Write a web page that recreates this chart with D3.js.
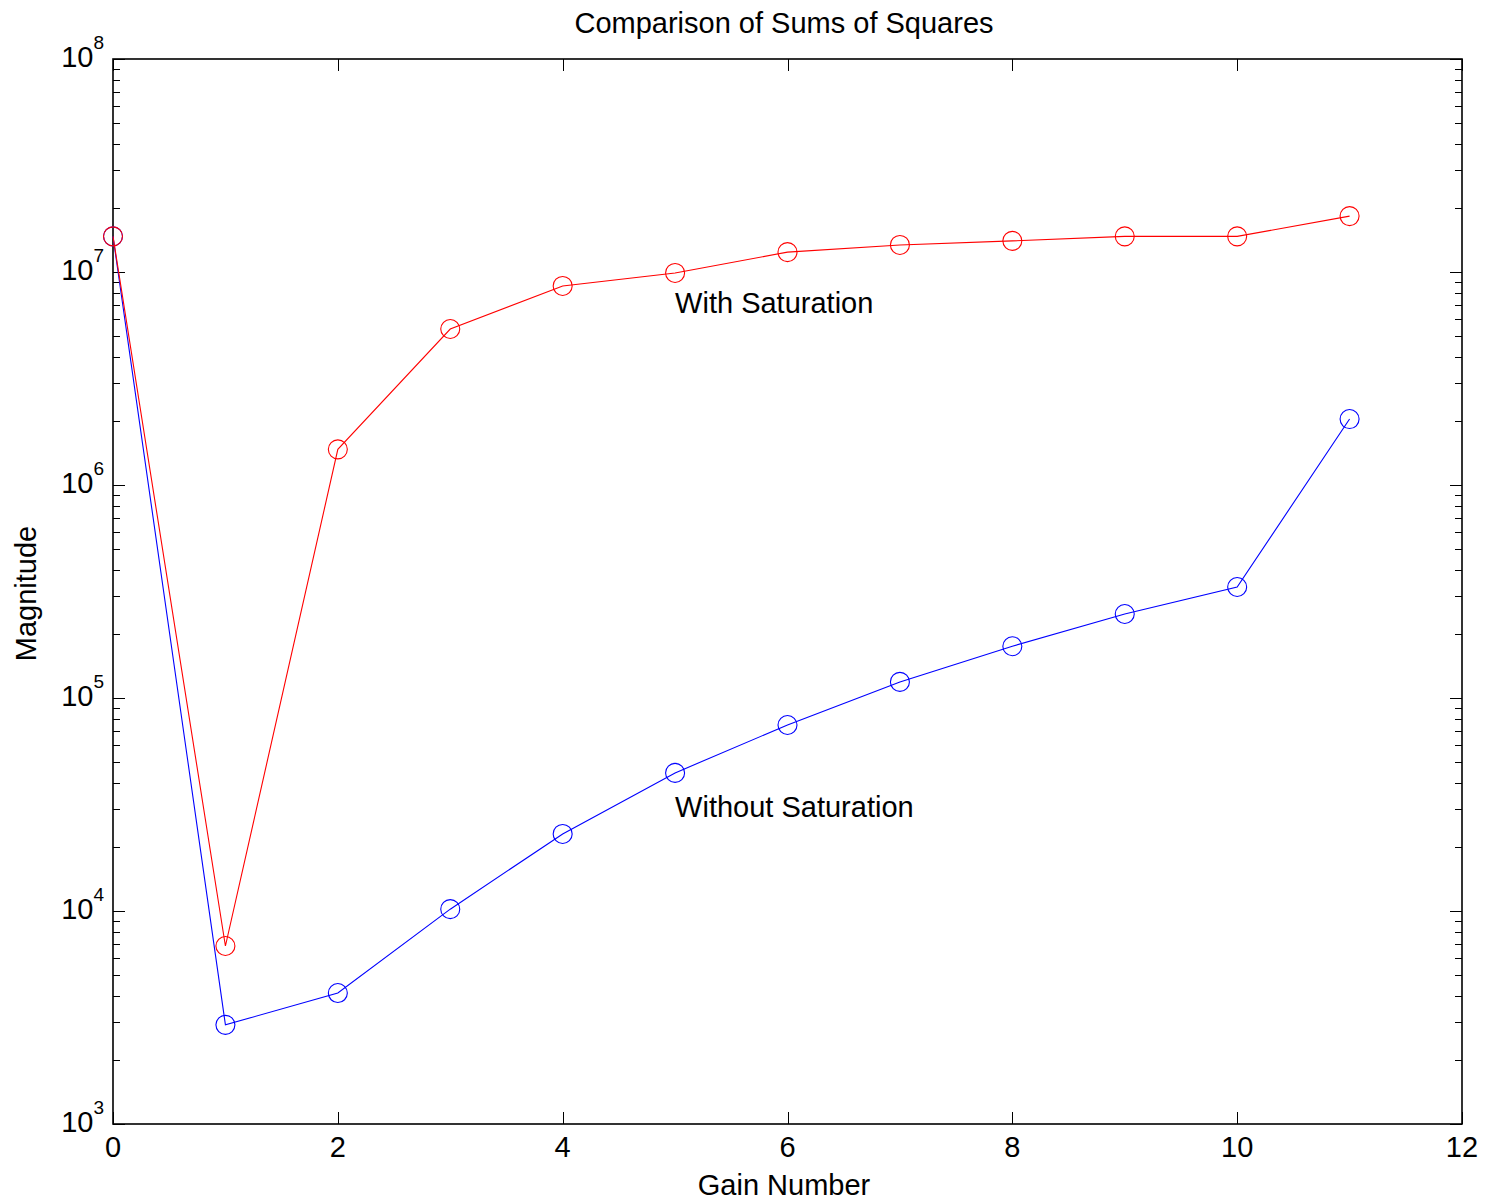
<!DOCTYPE html>
<html>
<head>
<meta charset="utf-8">
<script src="https://cdn.jsdelivr.net/npm/d3@7"></script>
<style>
  html, body { margin: 0; padding: 0; background: #fff; }
  svg { display: block; }
  text { font-family: "Liberation Sans", Arial, Helvetica, sans-serif; fill: #000; }
</style>
</head>
<body>
<script>
// Gain index for each run
const gains = [0, 1, 2, 3, 4, 5, 6, 7, 8, 9, 10, 11];
// Sum of squares with actuator saturation
const withSaturation = [1.47e7, 6.85e3, 1.47e6, 5.4e6, 8.6e6, 9.9e6, 1.24e7, 1.34e7, 1.40e7, 1.47e7, 1.47e7, 1.83e7];
// Sum of squares without saturation
const withoutSaturation = [1.47e7, 2.92e3, 4.12e3, 1.02e4, 2.30e4, 4.45e4, 7.47e4, 1.19e5, 1.75e5, 2.48e5, 3.32e5, 2.04e6];
// Axis ticks
const xTicks = [0, 2, 4, 6, 8, 10, 12];
const yExponents = [3, 4, 5, 6, 7, 8];
// In-plot annotations: [x, y, text]
const annotations = [
  [5, 7e6, "With Saturation"],
  [5, 3e4, "Without Saturation"]
];

const W = 1486, H = 1204;
const plotLeft = 113, plotRight = 1462, plotTop = 59, plotBottom = 1124;
const fontSize = 29, supSize = 19;
const labelCenterX = 784;

const svg = d3.select("body").append("svg").attr("width", W).attr("height", H);

const x = d3.scaleLinear().domain([0, 12]).range([plotLeft, plotRight]);
const y = d3.scaleLog().domain([1e3, 1e8]).range([plotBottom, plotTop]);

// Minor log ticks 2..9 per decade
const minor = [];
for (let e = 3; e < 8; e++) for (let m = 2; m <= 9; m++) minor.push(m * Math.pow(10, e));
const major = yExponents.map(e => Math.pow(10, e));

const tickG = svg.append("g").attr("stroke", "#000").attr("stroke-width", 1);
// y ticks on both sides, pointing inward
[[plotLeft, 1], [plotRight, -1]].forEach(([x0, dir]) => {
  tickG.selectAll(null).data(minor).enter().append("line")
    .attr("x1", x0).attr("x2", x0 + dir * 7)
    .attr("y1", d => Math.round(y(d)) + 0.5).attr("y2", d => Math.round(y(d)) + 0.5);
  tickG.selectAll(null).data(major).enter().append("line")
    .attr("x1", x0).attr("x2", x0 + dir * 12)
    .attr("y1", d => Math.round(y(d)) + 0.5).attr("y2", d => Math.round(y(d)) + 0.5);
});
// x ticks on bottom and top, pointing inward
[[plotBottom, -1], [plotTop, 1]].forEach(([y0, dir]) => {
  tickG.selectAll(null).data(xTicks).enter().append("line")
    .attr("x1", d => Math.round(x(d)) + 0.5).attr("x2", d => Math.round(x(d)) + 0.5)
    .attr("y1", y0).attr("y2", y0 + dir * 12);
});

// Axes box
svg.append("rect")
  .attr("x", plotLeft).attr("y", plotTop)
  .attr("width", plotRight - plotLeft).attr("height", plotBottom - plotTop)
  .attr("fill", "none").attr("stroke", "#000").attr("stroke-width", 1.6);

// x tick labels
svg.append("g").selectAll("text").data(xTicks).enter().append("text")
  .attr("x", d => x(d)).attr("y", plotBottom + 33)
  .attr("text-anchor", "middle").attr("font-size", fontSize)
  .text(d => d);

// y tick labels as powers of ten
const yl = svg.append("g").selectAll("text").data(yExponents).enter().append("text")
  .attr("x", plotLeft - 9).attr("y", d => y(Math.pow(10, d)) + 7.5)
  .attr("text-anchor", "end").attr("font-size", fontSize);
yl.append("tspan").text("10");
yl.append("tspan").attr("font-size", supSize).attr("dy", -17.5).text(d => d);

// Series
const line = d3.line().x((d, i) => x(gains[i])).y(d => y(d));
function drawSeries(values, color) {
  const g = svg.append("g");
  g.append("path").datum(values).attr("d", line)
    .attr("fill", "none").attr("stroke", color).attr("stroke-width", 1.1);
  g.selectAll("circle").data(values).enter().append("circle")
    .attr("cx", (d, i) => x(gains[i])).attr("cy", d => y(d)).attr("r", 9.5)
    .attr("fill", "none").attr("stroke", color).attr("stroke-width", 1.1);
}
drawSeries(withoutSaturation, "#0000ff");
drawSeries(withSaturation, "#ff0000");

// Annotations
svg.append("g").selectAll("text").data(annotations).enter().append("text")
  .attr("x", d => x(d[0])).attr("y", d => y(d[1]))
  .attr("dominant-baseline", "middle").attr("font-size", fontSize)
  .text(d => d[2]);

// Title and axis labels
svg.append("text").attr("x", labelCenterX).attr("y", 33)
  .attr("text-anchor", "middle").attr("font-size", fontSize)
  .text("Comparison of Sums of Squares");
svg.append("text").attr("x", labelCenterX).attr("y", 1195)
  .attr("text-anchor", "middle").attr("font-size", fontSize)
  .text("Gain Number");
svg.append("text")
  .attr("transform", `translate(36,${(plotTop + plotBottom) / 2 + 2}) rotate(-90)`)
  .attr("text-anchor", "middle").attr("font-size", fontSize)
  .text("Magnitude");
</script>
</body>
</html>
